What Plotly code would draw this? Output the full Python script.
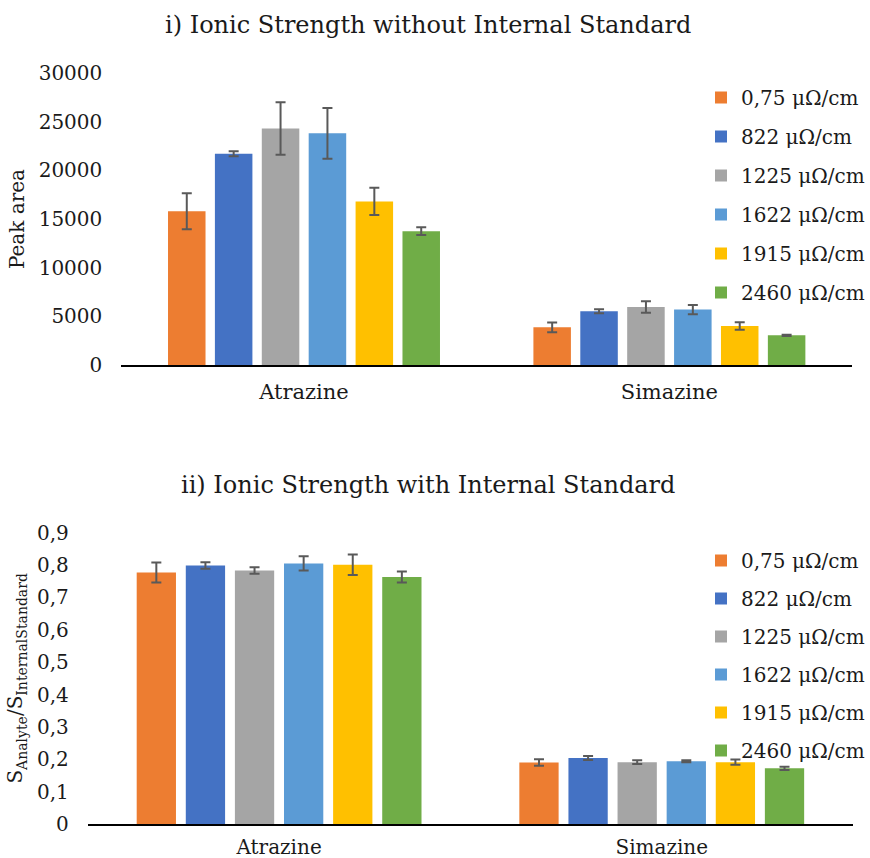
import plotly.graph_objects as go

# Categories and series labels
analytes = ["Atrazine", "Simazine"]
conductivities = ["0,75 μΩ/cm", "822 μΩ/cm", "1225 μΩ/cm",
                  "1622 μΩ/cm", "1915 μΩ/cm", "2460 μΩ/cm"]
colors = ["#ED7D31", "#4472C4", "#A5A5A5", "#5B9BD5", "#FFC000", "#70AD47"]

# i) Peak area without internal standard: [Atrazine, Simazine] per conductivity
peak_area = [
    [15800, 3870],
    [21700, 5520],
    [24300, 5960],
    [23800, 5690],
    [16800, 4010],
    [13750, 3050],
]
peak_area_err = [
    [1850, 500],
    [250, 200],
    [2700, 600],
    [2600, 480],
    [1400, 380],
    [400, 70],
]

# ii) Ratio to internal standard: [Atrazine, Simazine] per conductivity
ratio = [
    [0.777, 0.190],
    [0.799, 0.204],
    [0.783, 0.191],
    [0.805, 0.194],
    [0.801, 0.191],
    [0.763, 0.172],
]
ratio_err = [
    [0.031, 0.010],
    [0.010, 0.006],
    [0.010, 0.006],
    [0.022, 0.003],
    [0.032, 0.008],
    [0.017, 0.005],
]

top_ticks = [0, 5000, 10000, 15000, 20000, 25000, 30000]
bottom_ticks = [0, 0.1, 0.2, 0.3, 0.4, 0.5, 0.6, 0.7, 0.8, 0.9]
bottom_ticktext = ["0", "0,1", "0,2", "0,3", "0,4", "0,5", "0,6", "0,7", "0,8", "0,9"]

FONT = "DejaVu Serif"
TEXT = "#1a1a1a"
W, H = 870, 858

fig = go.Figure()

for i, name in enumerate(conductivities):
    fig.add_trace(go.Bar(
        x=analytes, y=peak_area[i], name=name,
        marker=dict(color=colors[i], line=dict(width=0)),
        error_y=dict(type="data", array=peak_area_err[i], color="#595959",
                     thickness=2, width=5),
        xaxis="x", yaxis="y", legend="legend", legendgroup=f"a{i}",
    ))
for i, name in enumerate(conductivities):
    fig.add_trace(go.Bar(
        x=analytes, y=ratio[i], name=name,
        marker=dict(color=colors[i], line=dict(width=0)),
        error_y=dict(type="data", array=ratio_err[i], color="#595959",
                     thickness=2, width=5),
        xaxis="x2", yaxis="y2", legend="legend2", legendgroup=f"b{i}",
    ))


def py(px):
    return 1 - px / H


def pxx(px):
    return px / W


axis_common = dict(showgrid=False, zeroline=False, fixedrange=True, automargin=False)
tickfont = dict(family=FONT, size=20, color=TEXT)
catfont = dict(family=FONT, size=21, color=TEXT)
catfont_low = dict(family=FONT, size=20, color=TEXT)
legendfont = dict(family=FONT, size=20, color=TEXT)

fig.update_layout(
    width=W, height=H,
    margin=dict(l=0, r=0, t=0, b=0),
    paper_bgcolor="white", plot_bgcolor="white",
    font=dict(family=FONT, size=20, color=TEXT),
    barmode="group", bargap=0.23, bargroupgap=0.2,
    xaxis=dict(domain=[pxx(123), pxx(864)], anchor="y",
               showline=True, linecolor="black", linewidth=2,
               ticks="", tickfont=catfont, ticklabelstandoff=7,
               **axis_common),
    yaxis=dict(domain=[py(365), py(73)], anchor="x", range=[0, 30000],
               tickvals=top_ticks, tickformat="d", showline=False,
               ticks="", tickfont=tickfont, ticklabelstandoff=18,
               title=dict(text="Peak area", font=dict(family=FONT, size=20, color=TEXT),
                          standoff=8),
               **axis_common),
    xaxis2=dict(domain=[pxx(89), pxx(865)], anchor="y2",
                showline=True, linecolor="black", linewidth=2,
                ticks="", tickfont=catfont_low, ticklabelstandoff=4,
                **axis_common),
    yaxis2=dict(domain=[py(824), py(532.7)], anchor="x2", range=[0, 0.9],
                tickvals=bottom_ticks, ticktext=bottom_ticktext, showline=False,
                ticks="", tickfont=tickfont, ticklabelstandoff=18,
                title=dict(text="S<sub>Analyte</sub>/S<sub>InternalStandard</sub>",
                           font=dict(family=FONT, size=20, color=TEXT), standoff=8),
                **axis_common),
    legend=dict(x=pxx(711), y=py(78), xanchor="left", yanchor="top",
                bgcolor="rgba(0,0,0,0)", tracegroupgap=10, font=legendfont),
    legend2=dict(x=pxx(711), y=py(541), xanchor="left", yanchor="top",
                 bgcolor="rgba(0,0,0,0)", tracegroupgap=9, font=legendfont),
    annotations=[
        dict(text="i) Ionic Strength without Internal Standard", x=pxx(434), y=py(25),
             xref="paper", yref="paper", showarrow=False, xanchor="center",
             yanchor="middle", font=dict(family=FONT, size=24, color=TEXT)),
        dict(text="ii) Ionic Strength with Internal Standard", x=pxx(434), y=py(485),
             xref="paper", yref="paper", showarrow=False, xanchor="center",
             yanchor="middle", font=dict(family=FONT, size=24, color=TEXT)),
    ],
)

fig.write_html("out.html")
